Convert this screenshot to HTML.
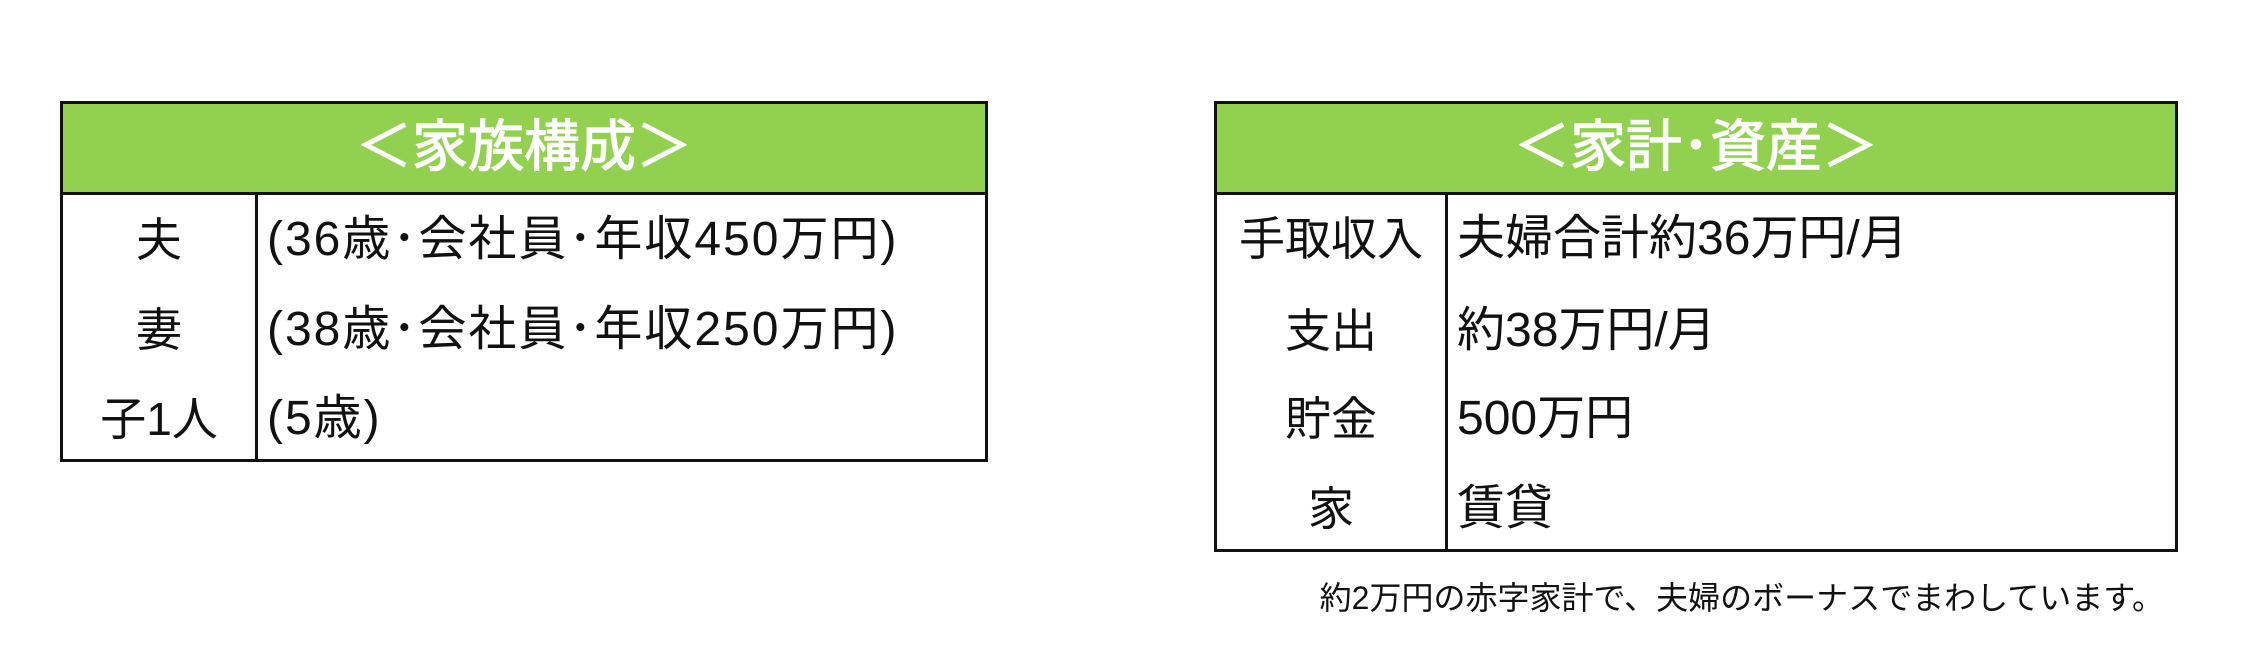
<!DOCTYPE html>
<html><head><meta charset="utf-8"><style>
body{margin:0;width:2244px;height:665px;background:#fff;position:relative;overflow:hidden;font-family:"Liberation Sans","Noto Sans CJK JP",sans-serif;}
.t{position:absolute;border:3.5px solid #111;box-sizing:border-box;background:#fff}
.h{position:absolute;left:0;right:0;top:0;background:#92d050;border-bottom:3.5px solid #111;color:#fff;font-size:56px;text-align:center;box-sizing:border-box;-webkit-text-stroke:1.2px #fff}
.v{position:absolute;width:3px;background:#111;bottom:0}
.tx{position:absolute;font-size:48px;color:#111;white-space:nowrap;line-height:1;transform:translateY(-50%)}
.c{text-align:center;font-size:46px}
.l{letter-spacing:2px}
</style></head><body>
<div class="t" style="left:60px;top:101px;width:928px;height:361px">
 <div class="h" style="height:91px;line-height:86px">＜家族構成＞</div>
 <div class="v" style="left:192px;top:88px"></div>
 <div class="tx c" style="left:0;width:192px;top:136px">夫</div>
 <div class="tx c" style="left:0;width:192px;top:226px">妻</div>
 <div class="tx c" style="left:0;width:192px;top:315px">子1人</div>
 <div class="tx l" style="left:204px;top:136px">(36歳･会社員･年収450万円)</div>
 <div class="tx l" style="left:204px;top:226px">(38歳･会社員･年収250万円)</div>
 <div class="tx l" style="left:204px;top:315px">(5歳)</div>
</div>
<div class="t" style="left:1214px;top:101px;width:964px;height:451px">
 <div class="h" style="height:91px;line-height:86px">＜家計･資産＞</div>
 <div class="v" style="left:228px;top:88px"></div>
 <div class="tx c" style="left:0;width:228px;top:135px">手取収入</div>
 <div class="tx c" style="left:0;width:228px;top:227px">支出</div>
 <div class="tx c" style="left:0;width:228px;top:315px">貯金</div>
 <div class="tx c" style="left:0;width:228px;top:405px">家</div>
 <div class="tx" style="left:240px;top:135px">夫婦合計約36万円/月</div>
 <div class="tx" style="left:240px;top:227px">約38万円/月</div>
 <div class="tx" style="left:240px;top:315px">500万円</div>
 <div class="tx" style="left:240px;top:405px">賃貸</div>
</div>
<div class="tx" style="right:80px;top:598px;font-size:32px">約2万円の赤字家計で、夫婦のボーナスでまわしています。</div>
</body></html>
